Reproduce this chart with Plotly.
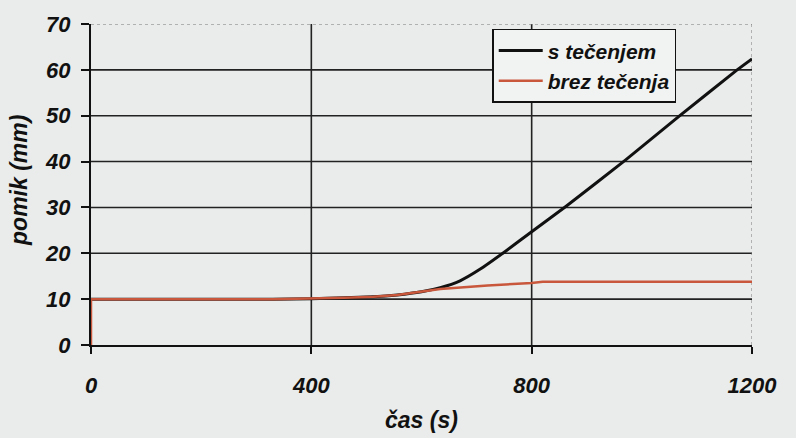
import plotly.graph_objects as go

# time (s) and displacement (mm)
t_flow = [0, 330, 400, 460, 513, 556, 600, 634, 670, 706, 752, 800, 862, 969, 1069, 1173, 1200]
u_flow = [10, 10, 10.1, 10.3, 10.5, 10.9, 11.6, 12.5, 14.0, 16.5, 20.4, 24.7, 30.2, 40.2, 50, 60, 62.4]

t_noflow = [0, 0, 330, 400, 460, 513, 556, 634, 670, 720, 800, 820, 1200]
u_noflow = [0, 10, 10, 10.1, 10.3, 10.5, 10.9, 12.2, 12.6, 13.0, 13.5, 13.8, 13.8]

x_ticks = [0, 400, 800, 1200]
y_ticks = [0, 10, 20, 30, 40, 50, 60, 70]

BG = "#e9ecea"
FONT = "Liberation Sans"
tick_font = dict(family=FONT, size=22, color="#111", weight="bold", style="italic")

fig = go.Figure()
fig.add_trace(go.Scatter(x=t_flow, y=u_flow, mode="lines", name="s tečenjem",
                         line=dict(color="#111111", width=3, shape="spline", smoothing=0.4)))
fig.add_trace(go.Scatter(x=t_noflow, y=u_noflow, mode="lines", name="brez tečenja",
                         line=dict(color="#c9573c", width=2.5)))

shapes = []
# grid
for yv in y_ticks[1:-1]:
    shapes.append(dict(type="line", xref="x", yref="y", x0=0, x1=1200, y0=yv, y1=yv,
                       line=dict(color="#222", width=1.6), layer="below"))
for xv in x_ticks[1:-1]:
    shapes.append(dict(type="line", xref="x", yref="y", x0=xv, x1=xv, y0=0, y1=70,
                       line=dict(color="#222", width=1.6), layer="below"))
# dotted frame on top and right
shapes.append(dict(type="line", xref="x", yref="y", x0=0, x1=1200, y0=70, y1=70,
                   line=dict(color="#777", width=1, dash="dot"), layer="below"))
shapes.append(dict(type="line", xref="x", yref="y", x0=1200, x1=1200, y0=0, y1=70,
                   line=dict(color="#777", width=1, dash="dot"), layer="below"))

title_font = dict(family=FONT, size=23, color="#111", weight="bold", style="italic")

fig.update_layout(
    width=796, height=438,
    margin=dict(l=91, r=44, t=16, b=93),
    paper_bgcolor=BG, plot_bgcolor=BG,
    showlegend=True,
    legend=dict(x=0.607, y=0.985, xanchor="left", yanchor="top",
                bgcolor="#f1f3f2", bordercolor="#111", borderwidth=1.5,
                font=dict(family=FONT, size=21, color="#111", weight="bold", style="italic"),
                itemwidth=44, tracegroupgap=2),
    xaxis=dict(range=[0, 1200], tickvals=x_ticks, showgrid=False, zeroline=False,
               showline=True, linecolor="#111", linewidth=2,
               ticks="outside", ticklen=7, tickwidth=2, tickcolor="#111",
               tickfont=tick_font, ticklabelstandoff=13),
    yaxis=dict(range=[0, 70], tickvals=y_ticks, showgrid=False, zeroline=False,
               showline=True, linecolor="#111", linewidth=2,
               ticks="outside", ticklen=8, tickwidth=2, tickcolor="#111",
               tickfont=tick_font, ticklabelstandoff=6),
    shapes=shapes,
    annotations=[
        dict(text="čas (s)", xref="paper", yref="paper", x=0.5, y=-0.234,
             showarrow=False, font=title_font, xanchor="center", yanchor="middle"),
        dict(text="pomik (mm)", xref="paper", yref="paper", x=-0.109, y=0.514,
             showarrow=False, font=title_font, textangle=-90,
             xanchor="center", yanchor="middle"),
    ],
)

fig.write_html("out.html")
